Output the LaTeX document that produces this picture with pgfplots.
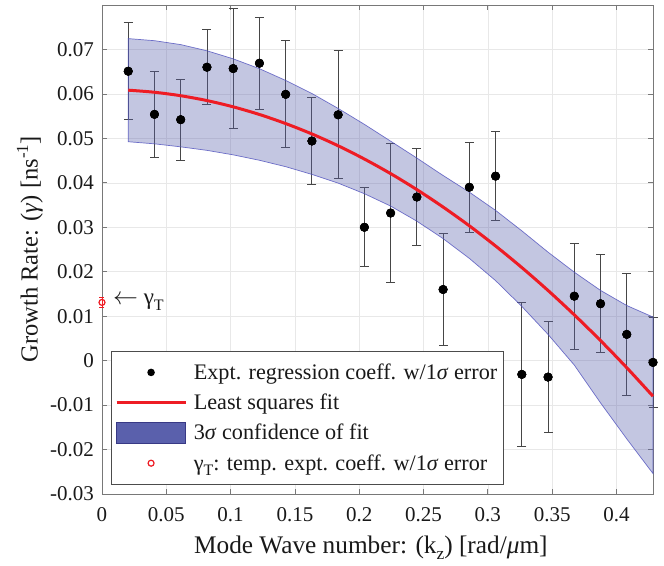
\documentclass[border=0pt]{standalone}
\usepackage{fontspec}
\setmainfont{Liberation Serif}
\usepackage{pgfplots}
\pgfplotsset{compat=1.18}
\usepackage{pgfplotstable}
\definecolor{fitred}{RGB}{238,28,36}
\definecolor{bandcol}{RGB}{90,96,172}
\definecolor{bandedge}{RGB}{80,82,190}
\definecolor{errcol}{RGB}{70,70,70}
\definecolor{axcol}{RGB}{120,120,120}
\definecolor{txtcol}{RGB}{25,25,25}

\pgfplotstableread{
x y err
0.0204 0.0651 0.01095
0.0408 0.0554 0.00965
0.0612 0.0542 0.0091
0.0816 0.0660 0.0084
0.1020 0.0657 0.01355
0.1224 0.0669 0.0103
0.1428 0.0599 0.01205
0.1632 0.0494 0.00985
0.1836 0.0553 0.0144
0.2040 0.0300 0.00885
0.2244 0.0332 0.0157
0.2448 0.0368 0.01085
0.2652 0.0160 0.0127
0.2856 0.0390 0.0101
0.3060 0.0415 0.00995
0.3264 -0.0031 0.0162
0.3468 -0.0037 0.01245
0.3672 0.0145 0.01195
0.3876 0.0128 0.0110
0.4080 0.0059 0.0137
0.4284 -0.0004 0.0101
}\expdata

\pgfplotstableread{
x y
0.0204 0.06084
0.0408 0.06037
0.0612 0.05959
0.0816 0.05850
0.1020 0.05709
0.1224 0.05537
0.1428 0.05333
0.1632 0.05099
0.1836 0.04833
0.2040 0.04535
0.2244 0.04207
0.2448 0.03847
0.2652 0.03455
0.2856 0.03033
0.3060 0.02579
0.3264 0.02094
0.3468 0.01578
0.3672 0.01030
0.3876 0.00451
0.4080 -0.00159
0.4284 -0.00801
}\fitdata

% band: upper edge left to right, then lower edge right to left
\pgfplotstableread{
x y
0.0204 0.07244
0.0408 0.07197
0.0612 0.07109
0.0816 0.06970
0.1020 0.06789
0.1224 0.06567
0.1428 0.06303
0.1632 0.06009
0.1836 0.05673
0.2040 0.05315
0.2244 0.04937
0.2448 0.04557
0.2652 0.04165
0.2856 0.03790
0.3060 0.03380
0.3264 0.02920
0.3468 0.02440
0.3672 0.01990
0.3876 0.01580
0.4080 0.01240
0.4284 0.00980
0.4284 -0.02540
0.4080 -0.01760
0.3876 -0.00950
0.3672 -0.00100
0.3468 0.00590
0.3264 0.01220
0.3060 0.01800
0.2856 0.02300
0.2652 0.02745
0.2448 0.03137
0.2244 0.03477
0.2040 0.03755
0.1836 0.03993
0.1632 0.04189
0.1428 0.04363
0.1224 0.04507
0.1020 0.04629
0.0816 0.04730
0.0612 0.04809
0.0408 0.04877
0.0204 0.04924
}\banddata

\pgfplotstableread{
x y err
0 0.0131 0.0011
}\gammaT

\begin{document}
\begin{tikzpicture}
\begin{axis}[
  name=ax,
  scale only axis,
  width=551pt, height=489pt,
  xmin=0, xmax=0.4284,
  ymin=-0.03, ymax=0.08,
  clip=false,
  axis line style={axcol, line width=0.8pt},
  tick style={axcol, line width=0.8pt},
  major tick length=5pt,
  tick align=inside,
  xtick={0,0.05,0.1,0.15,0.2,0.25,0.3,0.35,0.4},
  xticklabels={0,0.05,0.1,0.15,0.2,0.25,0.3,0.35,0.4},
  ytick={-0.03,-0.02,-0.01,0,0.01,0.02,0.03,0.04,0.05,0.06,0.07},
  yticklabels={-0.03,-0.02,-0.01,0,0.01,0.02,0.03,0.04,0.05,0.06,0.07},
  ticklabel style={font=\fontsize{21}{24}\selectfont, text=txtcol},
  yticklabel style={inner sep=0pt, xshift=-8pt},
  xticklabel style={inner sep=0pt, yshift=-13pt},
  grid=major,
  major grid style={gray!18, line width=0.6pt},
  xlabel={Mode Wave number: (k\raisebox{-0.55ex}{\fontsize{17.5}{19}\selectfont z}) [rad/\textit{μ}m]},
  ylabel={Growth Rate: (\textit{γ}) [ns\raisebox{0.85ex}{\fontsize{17}{19}\selectfont -1}]},
  every axis x label/.style={at={(axis description cs:0.488,-0.121)}, anchor=base, font=\fontsize{25.3}{28}\selectfont, text=txtcol},
  every axis y label/.style={at={(axis description cs:-0.131,0.5)}, rotate=90, anchor=center, font=\fontsize{24.5}{28}\selectfont, text=txtcol},
  legend style={
    at={(0.0163,0.2924)}, anchor=north west,
    draw=black!70, line width=0.7pt, fill=white,
    font=\fontsize{22.2}{25}\selectfont, text=txtcol,
    cells={anchor=west},
    row sep=9pt, inner xsep=4pt, inner ysep=10.5pt,
    /tikz/every odd column/.append style={column sep=5pt},
  },
]
% error bars with points
\addplot[forget plot, only marks, mark=*, mark size=4.3pt, black,
  error bars/.cd, y dir=both, y explicit,
  error bar style={errcol, line width=0.9pt},
  error mark options={rotate=90, mark size=4.5pt, errcol, line width=1pt}]
  table[x=x, y=y, y error=err] {\expdata};
% confidence band
\addplot[forget plot, fill=bandcol, fill opacity=0.36, draw=bandedge, draw opacity=0.8, line width=0.7pt]
  table[x=x, y=y] {\banddata} -- cycle;
% points on top
\addplot[forget plot, only marks, mark=*, mark size=4.3pt, black] table[x=x, y=y] {\expdata};
% fit
\addplot[forget plot, fitred, line width=3pt, smooth] table[x=x, y=y] {\fitdata};
% gamma_T
\addplot[forget plot, only marks, mark=o, mark size=3pt, fitred, mark options={line width=1.2pt},
  error bars/.cd, y dir=both, y explicit,
  error bar style={fitred, line width=0.9pt},
  error mark options={rotate=90, mark size=2.5pt, fitred, line width=0.9pt}]
  table[x=x, y=y, y error=err] {\gammaT};
\node[anchor=west, font=\fontsize{23}{26}\selectfont, text=txtcol, inner sep=0pt] at (axis cs:0,0.0131) {\hspace{11pt}$\leftarrow$ γ\raisebox{-0.55ex}{\fontsize{16}{18}\selectfont T}};

\addlegendimage{legend image code/.code={\fill[black, draw=none] (34.5pt,0pt) circle (3.8pt); \path[draw=none, fill=none] (0pt,-10.5pt) rectangle (69pt,10.5pt);}}
\addlegendentry{Expt. regression coeff. w/1\textit{σ} error}
\addlegendimage{legend image code/.code={\draw[fitred, line width=2.5pt] (0pt,0pt) -- (69pt,0pt); \path[draw=none, fill=none] (0pt,-10.5pt) rectangle (69pt,10.5pt);}}
\addlegendentry{Least squares fit}
\addlegendimage{legend image code/.code={\fill[bandcol, draw=none] (0pt,-10.5pt) rectangle (69pt,10.5pt); \draw[bandedge!70!black, line width=0.5pt, fill=none] (0pt,-10.5pt) rectangle (69pt,10.5pt);}}
\addlegendentry{3\textit{σ} confidence of fit}
\addlegendimage{legend image code/.code={\draw[fitred, line width=1.2pt, fill=none] (34.5pt,0pt) circle (3pt); \path[draw=none, fill=none] (0pt,-10.5pt) rectangle (69pt,10.5pt);}}
\addlegendentry{γ\raisebox{-0.55ex}{\fontsize{16}{18}\selectfont T}: temp. expt. coeff. w/1\textit{σ} error}
\end{axis}
\pgfresetboundingbox
\path[use as bounding box] ([xshift=-102pt,yshift=-71pt]ax.south west) rectangle ([xshift=11pt,yshift=5pt]ax.north east);
\end{tikzpicture}
\end{document}
